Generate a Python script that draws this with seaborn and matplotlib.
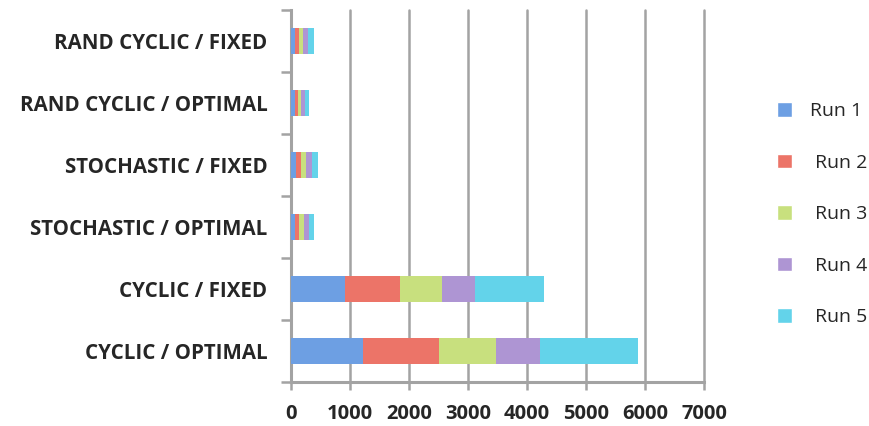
import numpy as np
import pandas as pd
import matplotlib
matplotlib.use("Agg")
import matplotlib.pyplot as plt
from matplotlib.patches import Patch
import seaborn as sns

# ----------------------
# data
# ----------------------
categories = ["RAND CYCLIC / FIXED", "RAND CYCLIC / OPTIMAL", "STOCHASTIC / FIXED",
              "STOCHASTIC / OPTIMAL", "CYCLIC / FIXED", "CYCLIC / OPTIMAL"]
runs = ["Run 1", " Run 2", " Run 3", " Run 4", " Run 5"]
run1 = [68, 68, 85, 68, 915, 1220]
run2 = [68, 51, 85, 68, 932, 1290]
run3 = [73, 51, 85, 85, 712, 966]
run4 = [80, 68, 102, 85, 559, 746]
run5 = [97, 68, 102, 85, 1170, 1656]
colors = ["#6d9fe3", "#ec7468", "#c8e07e", "#ae95d3", "#63d3ea"]

df = pd.DataFrame({"cat": categories, "r1": run1, "r2": run2, "r3": run3, "r4": run4, "r5": run5})
cols = ["r1", "r2", "r3", "r4", "r5"]
cum = df[cols].cumsum(axis=1)

sns.set_style("white")
plt.rcParams["font.family"] = ["Open Sans", "DejaVu Sans"]

fig = plt.figure(figsize=(8.69, 4.26), dpi=100)
ax = fig.add_axes([0.3349, 0.1033, 0.4752, 0.8732])

# stacked bars: draw cumulative totals from the largest down
for i in range(4, -1, -1):
    sns.barplot(x=cum[cols[i]], y=df["cat"], order=categories, orient="h",
                color=colors[i], saturation=1, width=0.42, linewidth=0,
                ax=ax, zorder=3)

grey = "#a3a3a3"
ax.set_xlim(0, 7000)
ax.set_ylim(5.5, -0.5)
ax.set_xticks(np.arange(0, 7001, 1000))
ax.xaxis.grid(True, color=grey, lw=1.8, zorder=0)
for gl in ax.get_xgridlines():
    gl.set_clip_on(False)
ax.set_xlabel("")
ax.set_ylabel("")

for s in ["top", "right"]:
    ax.spines[s].set_visible(False)
for s in ["left", "bottom"]:
    ax.spines[s].set_color(grey)
    ax.spines[s].set_linewidth(2.2)

ax.tick_params(axis="x", bottom=True, length=6, width=1.8, color=grey, pad=10, labelsize=14.5)
ax.tick_params(axis="y", which="major", left=True, length=0, pad=17, labelsize=14.8)
ax.set_yticks(np.arange(-0.5, 6, 1), minor=True)
ax.tick_params(axis="y", which="minor", left=True, length=7, width=1.8, color=grey)
for lab in ax.get_xticklabels() + ax.get_yticklabels():
    lab.set_fontweight("bold")

handles = [Patch(facecolor=c, label=r) for c, r in zip(colors, runs)]
fig.legend(handles=handles, loc="center left", bbox_to_anchor=(0.874, 0.497),
           frameon=False, fontsize=14, handlelength=0.78, handleheight=0.78,
           labelspacing=1.72, handletextpad=0.9)

fig.savefig("out.png", dpi=100)
